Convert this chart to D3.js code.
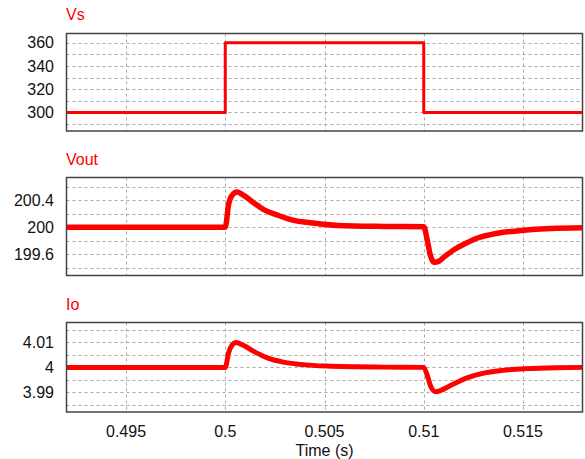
<!DOCTYPE html>
<html>
<head>
<meta charset="utf-8">
<script src="https://cdn.jsdelivr.net/npm/d3@7"></script>
<style>
  body { margin: 0; background: #fff; }
  text { font-family: "Liberation Sans", Arial, sans-serif; }
</style>
</head>
<body>
<script>
// time axis
var timeDomain = [0.492, 0.518];
var timeTicks = [0.495, 0.5, 0.505, 0.51, 0.515];

// Vs: step 300 -> 360 -> 300
var vsPoints = [
  [0.492, 300], [0.5, 300], [0.5, 360], [0.51, 360], [0.51, 300], [0.518, 300]
];

// Vout
var voutPoints = [
  [0.492, 200.0], [0.5, 200.0], [0.50017, 200.34], [0.50034, 200.47], [0.5006, 200.52],
  [0.50093, 200.47], [0.50143, 200.36], [0.50194, 200.26], [0.50262, 200.18], [0.50345, 200.10],
  [0.5043, 200.065], [0.50565, 200.025], [0.508, 200.01], [0.51, 200.005],
  [0.51019, 199.79], [0.51032, 199.60], [0.51053, 199.48], [0.51078, 199.50], [0.51103, 199.56],
  [0.51154, 199.67], [0.51204, 199.75], [0.51272, 199.84], [0.51373, 199.91], [0.5149, 199.95],
  [0.51642, 199.98], [0.518, 199.99]
];

// Io
var ioPoints = [
  [0.492, 4.0], [0.5, 4.0], [0.50017, 4.0059], [0.50034, 4.0088], [0.50054, 4.0099],
  [0.50091, 4.0088], [0.50141, 4.0065], [0.50209, 4.0039], [0.50293, 4.0021], [0.50377, 4.0012],
  [0.50512, 4.0005], [0.508, 4.0001], [0.51, 4.0],
  [0.51019, 3.9965], [0.51035, 3.9925], [0.5106, 3.9903], [0.51086, 3.9908], [0.51128, 3.9925],
  [0.51179, 3.9945], [0.51229, 3.9961], [0.51297, 3.9976], [0.51398, 3.9988], [0.51515, 3.9995],
  [0.51667, 3.9999], [0.518, 4.0]
];

var vsDomain = [284, 368];
var vsGrid = [290, 300, 310, 320, 330, 340, 350, 360];
var vsLabels = [300, 320, 340, 360];

var voutDomain = [199.286, 200.733];
var voutGrid = [199.4, 199.6, 199.8, 200, 200.2, 200.4, 200.6];
var voutLabels = [199.6, 200, 200.4];

var ioDomain = [3.9822, 4.0179];
var ioGrid = [3.985, 3.99, 3.995, 4, 4.005, 4.01, 4.015];
var ioLabels = [3.99, 4, 4.01];

var width = 585, height = 459;
var left = 66.5, right = 582.5;

var svg = d3.select("body").append("svg")
  .attr("width", width)
  .attr("height", height);

var x = d3.scaleLinear().domain(timeDomain).range([left, right]);

var panels = [
  { title: "Vs", top: 33.5, bottom: 131, titleY: 20, domain: vsDomain, grid: vsGrid, labels: vsLabels, data: vsPoints, sw: 3 },
  { title: "Vout", top: 177.5, bottom: 275.5, titleY: 165, domain: voutDomain, grid: voutGrid, labels: voutLabels, data: voutPoints, sw: 5.5 },
  { title: "Io", top: 322.5, bottom: 412, titleY: 310, domain: ioDomain, grid: ioGrid, labels: ioLabels, data: ioPoints, sw: 5 }
];

panels.forEach(function(p, i) {
  var y = d3.scaleLinear().domain(p.domain).range([p.bottom, p.top]);
  var g = svg.append("g");

  // horizontal grid
  g.selectAll(".hg").data(p.grid).enter().append("line")
    .attr("x1", left).attr("x2", right)
    .attr("y1", function(d) { return Math.round(y(d)) + 0.5; })
    .attr("y2", function(d) { return Math.round(y(d)) + 0.5; })
    .attr("stroke", "#aaa").attr("stroke-dasharray", "3,3");

  // vertical grid
  g.selectAll(".vg").data(timeTicks).enter().append("line")
    .attr("y1", p.top).attr("y2", p.bottom)
    .attr("x1", function(d) { return Math.round(x(d)) + 0.5; })
    .attr("x2", function(d) { return Math.round(x(d)) + 0.5; })
    .attr("stroke", "#aaa").attr("stroke-dasharray", "3,3");

  // y tick labels
  g.selectAll(".yl").data(p.labels).enter().append("text")
    .attr("x", 54)
    .attr("y", function(d) { return y(d); })
    .attr("dy", "0.35em")
    .attr("text-anchor", "end")
    .attr("font-size", "16px")
    .attr("fill", "#111")
    .text(function(d) { return d; });

  // data line
  var clipId = "clip" + i;
  g.append("clipPath").attr("id", clipId).append("rect")
    .attr("x", left).attr("y", p.top).attr("width", right - left).attr("height", p.bottom - p.top);

  g.append("path")
    .datum(p.data)
    .attr("clip-path", "url(#" + clipId + ")")
    .attr("fill", "none")
    .attr("stroke", "#ff0000")
    .attr("stroke-width", p.sw)
    .attr("stroke-linejoin", "round")
    .attr("d", d3.line()
      .x(function(d) { return x(d[0]); })
      .y(function(d) { return y(d[1]); })
      .curve(p.title == "Vs" ? d3.curveLinear : d3.curveMonotoneX));

  // frame
  g.append("rect")
    .attr("x", left).attr("y", p.top)
    .attr("width", right - left).attr("height", p.bottom - p.top)
    .attr("fill", "none")
    .attr("stroke", "#444")
    .attr("stroke-width", 1.5);

  // title
  g.append("text")
    .attr("x", 66).attr("y", p.titleY)
    .attr("font-size", "16px")
    .attr("fill", "#ff0000")
    .text(p.title);
});

// x tick labels
svg.selectAll(".xl").data(timeTicks).enter().append("text")
  .attr("x", function(d) { return x(d); })
  .attr("y", 436.5)
  .attr("text-anchor", "middle")
  .attr("font-size", "16px")
  .attr("fill", "#111")
  .text(function(d) { return d; });

svg.append("text")
  .attr("x", (left + right) / 2)
  .attr("y", 456)
  .attr("text-anchor", "middle")
  .attr("font-size", "16px")
  .attr("fill", "#111")
  .text("Time (s)");
</script>
</body>
</html>
